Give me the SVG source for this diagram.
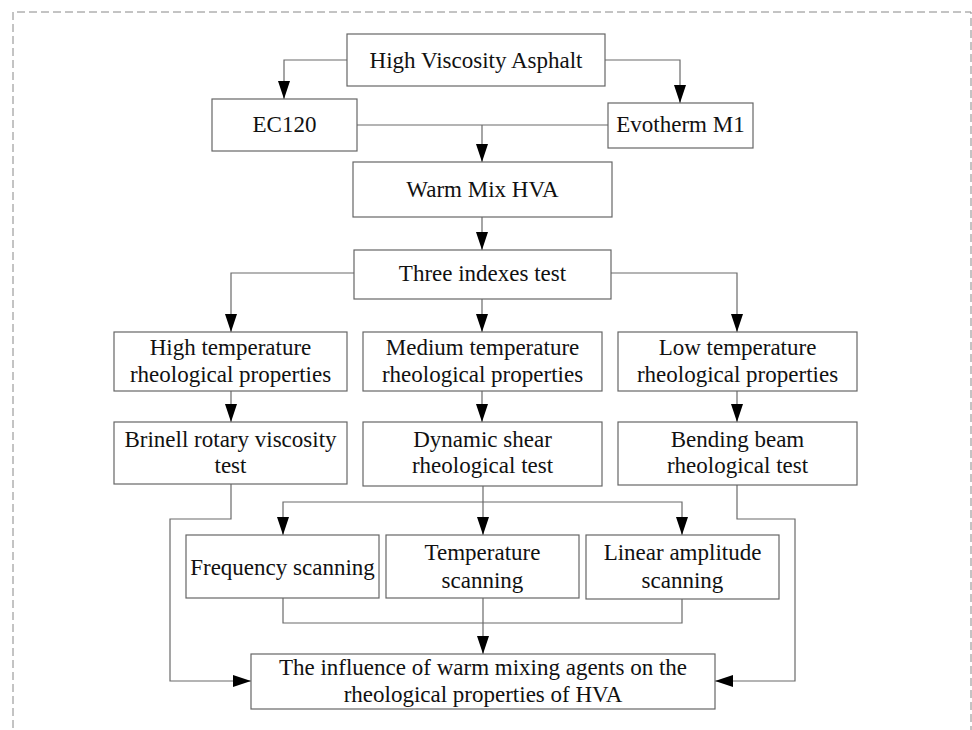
<svg xmlns="http://www.w3.org/2000/svg" width="972" height="730" viewBox="0 0 972 730">
<style>
.box{fill:#fff;stroke:#666;stroke-width:1.2}
.t{font-family:"Liberation Serif","Times New Roman",serif;font-size:23px;fill:#111;text-anchor:middle}
.c{fill:none;stroke:#6a6a6a;stroke-width:1.2}
.border{fill:none;stroke:#888;stroke-width:1;stroke-dasharray:8 4}
</style>
<defs>
<marker id="ah" markerUnits="userSpaceOnUse" markerWidth="19" markerHeight="13" refX="18" refY="6" orient="auto">
<path d="M0,0 L18,6 L0,12 z" fill="#000"/>
</marker>
</defs>
<rect width="972" height="730" fill="#fff"/>
<path class="border" d="M13,740 L13,12 L971,12 L971,740"/>
<g id="connectors">
<path class="c" d="M347,60 H284 V99" marker-end="url(#ah)"/>
<path class="c" d="M605,60 H680 V103" marker-end="url(#ah)"/>
<path class="c" d="M357,125 H608"/>
<path class="c" d="M482,125 V162" marker-end="url(#ah)"/>
<path class="c" d="M482,217 V250" marker-end="url(#ah)"/>
<path class="c" d="M354,273 H231 V332" marker-end="url(#ah)"/>
<path class="c" d="M611,273 H737 V332" marker-end="url(#ah)"/>
<path class="c" d="M482,299 V332" marker-end="url(#ah)"/>
<path class="c" d="M231,391 V422" marker-end="url(#ah)"/>
<path class="c" d="M482,391 V422" marker-end="url(#ah)"/>
<path class="c" d="M737,391 V422" marker-end="url(#ah)"/>
<path class="c" d="M483,486 V502"/>
<path class="c" d="M483,502 H283 V535" marker-end="url(#ah)"/>
<path class="c" d="M483,502 V535" marker-end="url(#ah)"/>
<path class="c" d="M483,502 H682 V535" marker-end="url(#ah)"/>
<path class="c" d="M231,484 V519 H170 V681 H251" marker-end="url(#ah)"/>
<path class="c" d="M737,485 V519 H795 V681 H715" marker-end="url(#ah)"/>
<path class="c" d="M283,598 V623 H682 V599"/>
<path class="c" d="M483,598 V654" marker-end="url(#ah)"/>
</g>
<g id="hva"><rect class="box" x="347" y="34" width="258" height="52"/><text class="t" x="476" y="68">High Viscosity Asphalt</text></g>
<g id="ec120"><rect class="box" x="212" y="99" width="145" height="52"/><text class="t" x="284.5" y="132">EC120</text></g>
<g id="evotherm"><rect class="box" x="608" y="103" width="145" height="45"/><text class="t" x="680.5" y="132">Evotherm M1</text></g>
<g id="warmmix"><rect class="box" x="353" y="162" width="259" height="55"/><text class="t" x="482.5" y="197">Warm Mix HVA</text></g>
<g id="three"><rect class="box" x="354" y="250" width="257" height="49"/><text class="t" x="482.5" y="281">Three indexes test</text></g>
<g id="hightemp"><rect class="box" x="114" y="332" width="233" height="59"/><text class="t" x="230.5" y="355">High temperature</text><text class="t" x="230.5" y="382">rheological properties</text></g>
<g id="medtemp"><rect class="box" x="363" y="332" width="239" height="59"/><text class="t" x="482.5" y="355">Medium temperature</text><text class="t" x="482.5" y="382">rheological properties</text></g>
<g id="lowtemp"><rect class="box" x="618" y="332" width="239" height="59"/><text class="t" x="737.5" y="355">Low temperature</text><text class="t" x="737.5" y="382">rheological properties</text></g>
<g id="brinell"><rect class="box" x="114" y="422" width="233" height="62"/><text class="t" x="230.5" y="447">Brinell rotary viscosity</text><text class="t" x="230.5" y="473">test</text></g>
<g id="dsr"><rect class="box" x="363" y="422" width="239" height="64"/><text class="t" x="482.5" y="447">Dynamic shear</text><text class="t" x="482.5" y="473">rheological test</text></g>
<g id="bbr"><rect class="box" x="618" y="422" width="239" height="63"/><text class="t" x="737.5" y="447">Bending beam</text><text class="t" x="737.5" y="473">rheological test</text></g>
<g id="freq"><rect class="box" x="186" y="535" width="193" height="63"/><text class="t" x="282.5" y="575">Frequency scanning</text></g>
<g id="temp"><rect class="box" x="386" y="535" width="193" height="63"/><text class="t" x="482.5" y="560">Temperature</text><text class="t" x="482.5" y="588">scanning</text></g>
<g id="linear"><rect class="box" x="586" y="535" width="193" height="64"/><text class="t" x="682.5" y="560">Linear amplitude</text><text class="t" x="682.5" y="588">scanning</text></g>
<g id="final"><rect class="box" x="251" y="654" width="464" height="55"/><text class="t" x="483" y="675">The influence of warm mixing agents on the</text><text class="t" x="483" y="702">rheological properties of HVA</text></g>
</svg>
